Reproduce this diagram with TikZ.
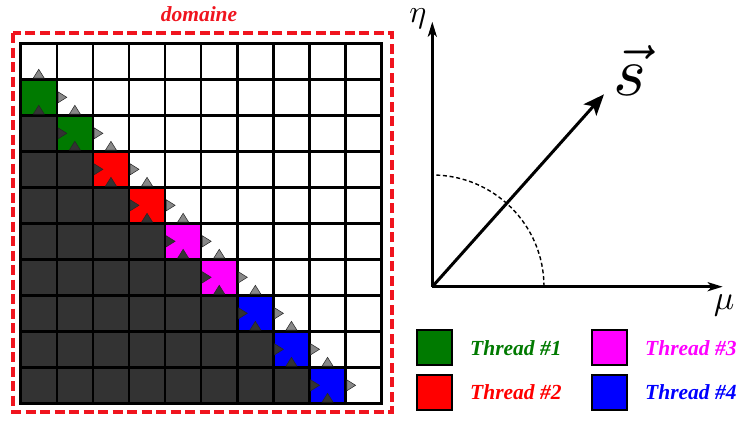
\documentclass[tikz,border=0pt]{standalone}
\usepackage{fontspec}
\setmainfont{Liberation Serif}
\usetikzlibrary{arrows.meta}
\definecolor{tgreen}{RGB}{0,122,0}
\definecolor{tred}{RGB}{255,0,0}
\definecolor{tmag}{RGB}{255,0,255}
\definecolor{tblue}{RGB}{0,0,255}
\definecolor{darkcell}{RGB}{51,51,51}
\definecolor{lighttri}{RGB}{136,136,136}
\definecolor{framered}{RGB}{240,20,30}
\begin{document}
\begin{tikzpicture}[x=1pt,y=-1pt,
  gridl/.style={line width=2.5pt},
  tri/.style={draw=black!85,line width=0.5pt},
  legbox/.style={draw=black,line width=2.3pt,minimum width=35pt,minimum height=35pt,inner sep=0pt},
  legtext/.style={anchor=base west,font=\fontsize{21.5}{24}\selectfont\bfseries\itshape,inner sep=0pt},
  axisl/.style={line width=3pt,-{Stealth[length=15pt,width=9pt,inset=4pt]}}]
\fill[white] (0,0) rectangle (739,421);
\useasboundingbox (0,0) rectangle (739,421);
% dark cells
\foreach \r in {2,...,9}{
  \pgfmathtruncatemacro\m{\r-2}
  \foreach \c in {0,...,\m}{
    \fill[darkcell] (20.7+36.1*\c,43.3+36*\r) rectangle ++(36.1,36);
  }
}
% thread cells
\foreach \r/\col in {1/tgreen,2/tgreen,3/tred,4/tred,5/tmag,6/tmag,7/tblue,8/tblue,9/tblue}{
  \fill[\col] (20.7+36.1*\r-36.1,43.3+36*\r) rectangle ++(36.1,36);
}
% grid
\foreach \i in {1,...,9}{
  \draw[gridl] (20.7+36.1*\i,43.3) -- (20.7+36.1*\i,403.3);
  \draw[gridl] (20.7,43.3+36*\i) -- (381.7,43.3+36*\i);
}
\draw[gridl] (20.7,43.3) rectangle (381.7,403.3);
% flux triangles
\foreach \r in {1,...,9}{
  \pgfmathsetmacro\xa{20.7+36.1*(\r-1)}
  \pgfmathsetmacro\ya{43.3+36*\r}
  \filldraw[tri,fill=lighttri] (\xa+12.55,\ya-1.2) -- ++(11,0) -- (\xa+18.05,\ya-10) -- cycle;
  \filldraw[tri,fill=lighttri] (\xa+37.3,\ya+12.5) -- ++(0,11) -- (\xa+46.1,\ya+18) -- cycle;
  \filldraw[tri,fill=darkcell] (\xa+12.55,\ya+34.8) -- ++(11,0) -- (\xa+18.05,\ya+26) -- cycle;
  \ifnum\r>1
    \filldraw[tri,fill=darkcell] (\xa+1.2,\ya+12.5) -- ++(0,11) -- (\xa+10,\ya+18) -- cycle;
  \fi
}
% domain frame
\draw[framered,line width=3.2pt,dash pattern=on 10pt off 4.5pt] (13,33) rectangle (392,412);
\node[anchor=base,text=framered,font=\fontsize{21.5}{24}\selectfont\bfseries\itshape,inner sep=0pt] (dom) at (199,21) {domaine};
% axes
\coordinate (O) at (432.3,286.7);
\coordinate (ET) at (432.3,21.7);
\coordinate (MT) at (722.7,286.7);
\coordinate (ST) at (604,94.3);
\draw[line width=1.4pt,dash pattern=on 4pt off 2.7pt] (O) ++(111.7,0) arc[start angle=0,end angle=-90,radius=111.7];
\draw[axisl] (O) -- (ET);
\draw[axisl] (O) -- (MT);
\draw[line width=3pt,-{Stealth[length=21pt,width=17pt,inset=5pt]}] (O) -- (ST);
\node[inner sep=0pt] (eta) at (418,19) {\scalebox{3.2}{$\eta$}};
\node[inner sep=0pt] (mu) at (724,305) {\scalebox{3.4}{$\mu$}};
\node[inner sep=0pt] (svec) at (630,70) {\scalebox{7}{$\vec{s}$}};
% legend
\node[legbox,fill=tgreen] (b1) at (434.5,347.5) {};
\node[legbox,fill=tred] (b2) at (434.5,392.5) {};
\node[legbox,fill=tmag] (b3) at (609.5,347.5) {};
\node[legbox,fill=tblue] (b4) at (609.5,392.5) {};
\node[legtext,text=tgreen] (t1) at (470,355) {Thread \#1};
\node[legtext,text=tred] (t2) at (470,399) {Thread \#2};
\node[legtext,text=tmag] (t3) at (645,355) {Thread \#3};
\node[legtext,text=tblue] (t4) at (645,399) {Thread \#4};
\end{tikzpicture}
\end{document}
